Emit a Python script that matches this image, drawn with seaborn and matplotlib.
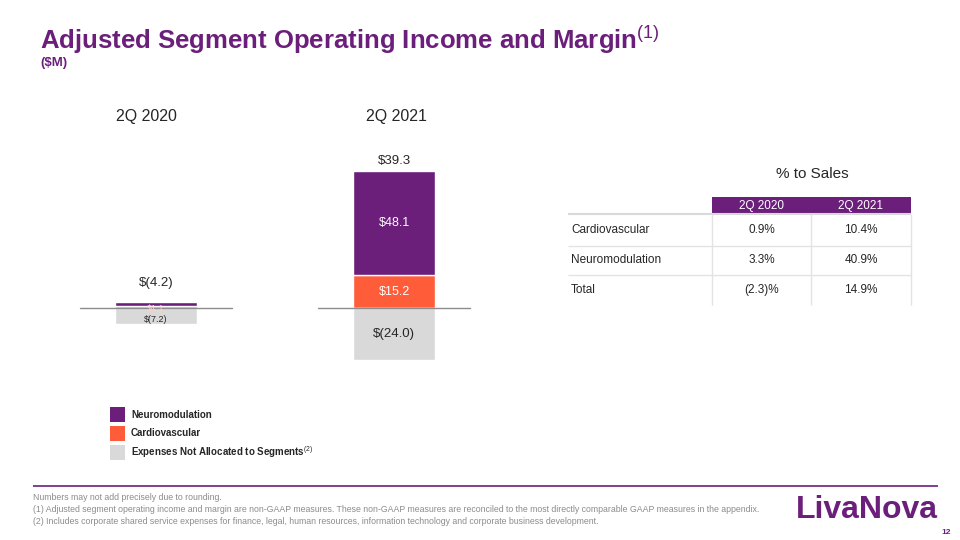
import numpy as np
import pandas as pd
import seaborn as sns
import matplotlib.pyplot as plt
from matplotlib.patches import Rectangle
from matplotlib.transforms import blended_transform_factory

# ---------------------------------------------------------
# DATA
# ---------------------------------------------------------
periods = ['2Q 2020', '2Q 2021']
neuro = [1.9, 48.1]
cardio = [1.1, 15.2]
unallocated = [-7.2, -24.0]
totals = [-4.2, 39.3]

table_rows = ['Cardiovascular', 'Neuromodulation', 'Total']
table_cols = ['2Q 2020', '2Q 2021']
pct_2020 = ['0.9%', '3.3%', '(2.3)%']
pct_2021 = ['10.4%', '40.9%', '14.9%']

legend_labels = ['Neuromodulation', 'Cardiovascular', r'Expenses Not Allocated to Segments$^{\mathrm{(2)}}$']

footnotes = [
    'Numbers may not add precisely due to rounding.',
    '(1) Adjusted segment operating income and margin are non-GAAP measures. These non-GAAP measures are '
    'reconciled to the most directly comparable GAAP measures in the appendix.',
    '(2) Includes corporate shared service expenses for finance, legal, human resources, information technology '
    'and corporate business development.',
]

PURPLE = '#6B1F7B'
ORANGE = '#FF5C39'
GRAY = '#D9D9D9'
TEXT = '#262626'

sns.set_theme(style='white')
plt.rcParams['font.family'] = ['Liberation Sans', 'DejaVu Sans']
plt.rcParams['mathtext.fontset'] = 'custom'
plt.rcParams['mathtext.rm'] = 'Liberation Sans'
plt.rcParams['mathtext.bf'] = 'Liberation Sans:bold'


def money(v):
    return f'$({abs(v):.1f})' if v < 0 else f'${v:.1f}'


df = pd.DataFrame({'Period': periods, 'Neuro': neuro, 'Cardio': cardio,
                   'Unallocated': unallocated, 'Total': totals})

fig = plt.figure(figsize=(9.6, 5.4), dpi=100)

# ---------------------------------------------------------
# STACKED BARS
# ---------------------------------------------------------
ax = fig.add_axes([60 / 960, 1 - 400 / 540, 440 / 960, 300 / 540])
bw = 0.345
sns.barplot(data=df, x='Period', y='Cardio', color=ORANGE, width=bw, ax=ax, saturation=1)
sns.barplot(data=df, x='Period', y='Neuro', color=PURPLE, width=bw, ax=ax, saturation=1,
            bottom=df['Cardio'].values)
sns.barplot(data=df, x='Period', y='Unallocated', color=GRAY, width=bw, ax=ax, saturation=1)
ax.set_xlim(-0.403, 1.445)
ax.set_ylim(-42.4, 95.9)
ax.axis('off')

xs = np.arange(len(periods))
for x in xs:
    ax.plot([x - 0.32, x + 0.32], [0, 0], color='#8C8C8C', lw=1, zorder=5)

small = [True, False]
for i, x in enumerate(xs):
    fs = 6.5 if small[i] else 9
    # small 2Q 2020 segments: nudge labels apart a little as on the slide
    nudge = (3, -1, -2.5) if small[i] else (0, 0, 0)
    ax.annotate(money(df['Neuro'][i]), (x, df['Cardio'][i] + df['Neuro'][i] / 2), xytext=(0, nudge[0]),
                textcoords='offset points', ha='center', va='center', color='white', fontsize=fs, zorder=6)
    ax.annotate(money(df['Cardio'][i]), (x, df['Cardio'][i] / 2), xytext=(0, nudge[1]),
                textcoords='offset points', ha='center', va='center',
                color='#FFD2C6' if small[i] else 'white', fontsize=fs, zorder=6)
    ax.annotate(money(df['Unallocated'][i]), (x, df['Unallocated'][i] / 2), xytext=(0, nudge[2]),
                textcoords='offset points', ha='center', va='center',
                color=TEXT, fontsize=fs if small[i] else 9.5, zorder=6)
    top = df['Cardio'][i] + df['Neuro'][i]
    ax.annotate(money(df['Total'][i]), (x, top), xytext=(0, 9 if small[i] else 2.5),
                textcoords='offset points', ha='center', va='bottom', fontsize=9.5, color=TEXT)

trans = blended_transform_factory(ax.transData, ax.transAxes)
period_shift = [-7, 2]
for x, p, dx in zip(xs, periods, period_shift):
    ax.annotate(p, (x, (400 - 117) / 300), xycoords=trans, xytext=(dx, 0), textcoords='offset points',
                ha='center', va='center', fontsize=11.5, color=TEXT)

# ---------------------------------------------------------
# PAGE DECORATION (pixel coordinates)
# ---------------------------------------------------------
pg = fig.add_axes([0, 0, 1, 1], zorder=-1)
pg.set_xlim(0, 960)
pg.set_ylim(540, 0)
pg.axis('off')

pg.text(40, 40, r'Adjusted Segment Operating Income and Margin$^{\mathrm{(1)}}$', fontsize=18.5,
        color=PURPLE, va='center', ha='left', weight='bold')
pg.text(40, 63, '($M)', fontsize=9.5, color=PURPLE, va='center', ha='left', weight='bold')

# legend
for k, (lab, col) in enumerate(zip(legend_labels, [PURPLE, ORANGE, GRAY])):
    y0 = 407 + k * 19
    pg.add_patch(Rectangle((110, y0), 15, 15, color=col, lw=0))
    pg.text(131, y0 + 7.5, lab, fontsize=7, weight='bold', color=TEXT, va='center', ha='left')

# table
pg.text(812, 174, '% to Sales', fontsize=11, ha='center', va='center', color=TEXT)
col_x = [568, 712, 811, 911]
pg.add_patch(Rectangle((col_x[1], 197), col_x[3] - col_x[1], 17, color=PURPLE, lw=0))
for j, c in enumerate(table_cols):
    pg.text((col_x[j + 1] + col_x[j + 2]) / 2, 206, c, fontsize=8.5, color='white', ha='center', va='center')
pg.hlines(214, col_x[0], col_x[3], color='#D9D9D9', lw=1.5)
for yl in [246, 275]:
    pg.hlines(yl, col_x[0], col_x[3], color='#E3E3E3', lw=1)
pg.vlines([col_x[1], col_x[2], col_x[3]], 214, 305, color='#E3E3E3', lw=1)
row_y = [230, 260, 290]
for r, yc in enumerate(row_y):
    pg.text(571, yc, table_rows[r], fontsize=8.5, color=TEXT, ha='left', va='center')
    pg.text((col_x[1] + col_x[2]) / 2, yc, pct_2020[r], fontsize=8.5, color=TEXT, ha='center', va='center')
    pg.text((col_x[2] + col_x[3]) / 2, yc, pct_2021[r], fontsize=8.5, color=TEXT, ha='center', va='center')

# footer
pg.hlines(486, 33, 938, color=PURPLE, lw=1.2)
for k, line in enumerate(footnotes):
    pg.text(33, 498 + k * 11.5, line, fontsize=6.3, color='#8C8C8C', ha='left', va='center')
pg.text(938, 510, 'LivaNova', fontsize=23, weight='bold', color=PURPLE, ha='right', va='center')
pg.text(951, 532, '12', fontsize=6, weight='bold', color=PURPLE, ha='right', va='center')

plt.savefig('out.png', dpi=100, facecolor='white')
